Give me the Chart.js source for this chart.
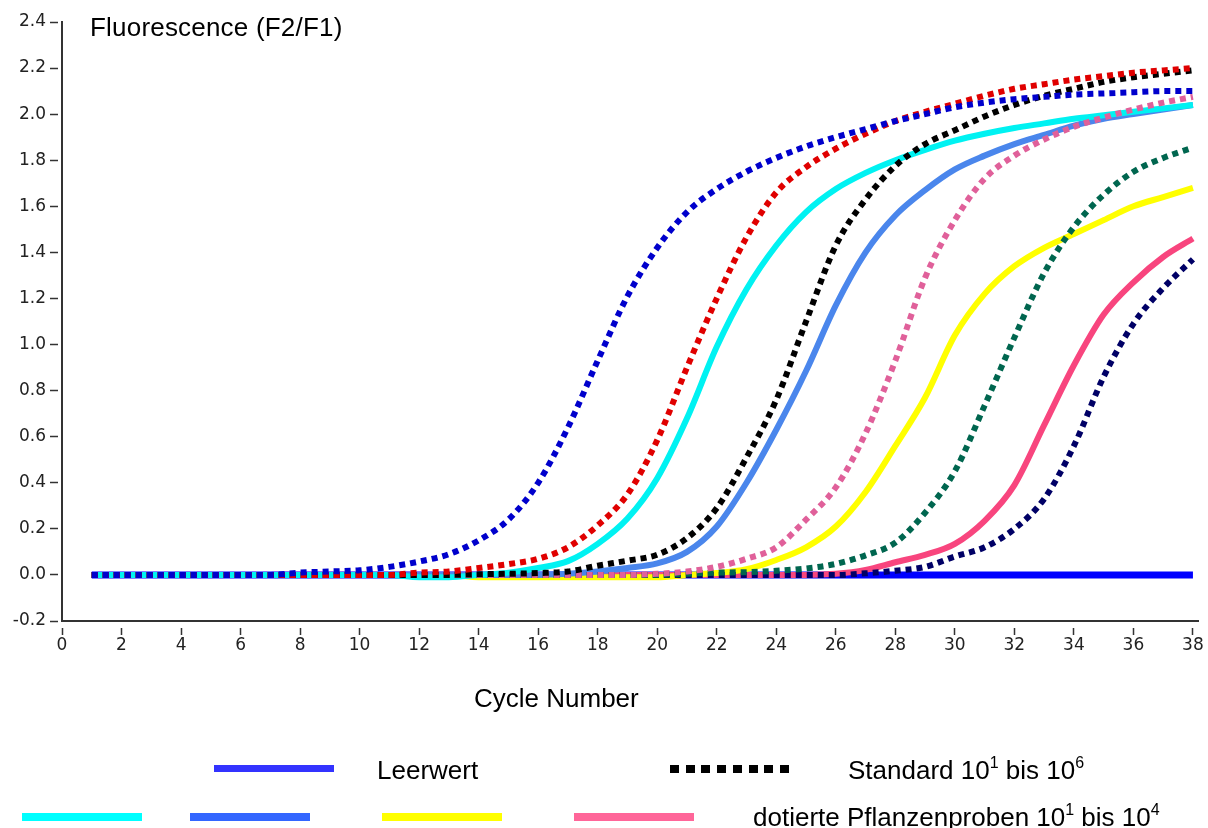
<!DOCTYPE html>
<html>
<head>
<meta charset="utf-8">
<script src="https://cdn.jsdelivr.net/npm/chart.js@4.4.1/dist/chart.umd.min.js"></script>
<style>
  html, body { margin: 0; padding: 0; background: #ffffff; }
  #wrap { position: relative; width: 1208px; height: 828px; overflow: hidden; background: #fff; }
  #chart { position: absolute; left: 0; top: 0; }
  .txt { position: absolute; font-family: 'Liberation Sans', Arial, sans-serif; font-size: 26px; line-height: 26px; color: #000; white-space: nowrap; }
  .txt sup { font-size: 16px; line-height: 0; vertical-align: 11px; }
  .sw { position: absolute; height: 8px; }
</style>
</head>
<body>
<div id="wrap">
  <canvas id="chart" width="1208" height="828"></canvas>
  <div class="txt" style="left:90px; top:14px; letter-spacing:0.2px;">Fluorescence (F2/F1)</div>
  <div class="txt" style="left:474px; top:685px;">Cycle Number</div>

  <div class="sw" style="left:214px; top:765px; width:120px; height:7px; background:#3333ff;"></div>
  <div class="txt" style="left:377px; top:757px;">Leerwert</div>
  <div class="sw" style="left:670px; top:765px; width:119px; background:repeating-linear-gradient(to right,#000 0px,#000 9px,transparent 9px,transparent 15.7px);"></div>
  <div class="txt" style="left:848px; top:757px;">Standard 10<sup>1</sup> bis 10<sup>6</sup></div>

  <div class="sw" style="left:22px; top:813px; width:120px; background:#00ffff;"></div>
  <div class="sw" style="left:190px; top:813px; width:120px; background:#3366ff;"></div>
  <div class="sw" style="left:382px; top:813px; width:120px; background:#ffff00;"></div>
  <div class="sw" style="left:574px; top:813px; width:120px; background:#ff6699;"></div>
  <div class="txt" style="left:753px; top:804px;">dotierte Pflanzenproben 10<sup>1</sup> bis 10<sup>4</sup></div>
</div>
<script>
// ---- data ----
const cycles = [1,2,3,4,5,6,7,8,9,10,11,12,13,14,15,16,17,18,19,20,21,22,23,24,25,26,27,28,29,30,31,32,33,34,35,36,37,38];

const yTickValues = [-0.2,0.0,0.2,0.4,0.6,0.8,1.0,1.2,1.4,1.6,1.8,2.0,2.2,2.4];
const xTickValues = [0,2,4,6,8,10,12,14,16,18,20,22,24,26,28,30,32,34,36,38];

// Standards (dotted)
const std1e6 = [0,0,0,0,0,0,0,0.01,0.015,0.02,0.035,0.058,0.09,0.15,0.24,0.40,0.64,0.93,1.21,1.42,1.575,1.675,1.75,1.81,1.86,1.90,1.935,1.97,2.00,2.03,2.05,2.065,2.075,2.085,2.09,2.095,2.10,2.10];
const std1e5 = [0,0,0,0,0,0,0,0,0,0,0,0.01,0.015,0.03,0.047,0.07,0.12,0.215,0.35,0.585,0.90,1.20,1.465,1.66,1.77,1.85,1.915,1.97,2.01,2.045,2.08,2.11,2.13,2.15,2.165,2.18,2.19,2.20];
const std1e4 = [0,0,0,0,0,0,0,0,0,0,0,0,0,0.003,0.005,0.008,0.015,0.04,0.062,0.088,0.16,0.29,0.51,0.76,1.10,1.43,1.63,1.775,1.87,1.93,1.99,2.04,2.08,2.11,2.14,2.16,2.175,2.19];
const std1e3 = [0,0,0,0,0,0,0,0,0,0,0,0,0,0,0,0,0,0,0,0.005,0.015,0.035,0.07,0.12,0.24,0.38,0.615,0.93,1.29,1.54,1.72,1.82,1.89,1.945,1.985,2.02,2.05,2.075];
const std1e2 = [0,0,0,0,0,0,0,0,0,0,0,0,0,0,0,0,0,0,0,0,0.005,0.01,0.012,0.018,0.028,0.048,0.085,0.14,0.27,0.45,0.735,1.03,1.31,1.51,1.65,1.75,1.81,1.855];
const std1e1 = [0,0,0,0,0,0,0,0,0,0,0,0,0,0,0,0,0,0,0,0,0,0,0,0,0,0,0.007,0.018,0.035,0.08,0.12,0.20,0.33,0.56,0.86,1.09,1.245,1.37];

// Spiked plant samples (solid)
const probeCyan   = [0,0,0,0,0,0,0,0,0,0,0,-0.01,-0.01,0,0.01,0.03,0.06,0.135,0.245,0.42,0.68,0.99,1.24,1.43,1.575,1.675,1.745,1.80,1.845,1.885,1.915,1.94,1.96,1.98,1.995,2.01,2.025,2.04];
const probeBlue   = [0,0,0,0,0,0,0,0,0,0,0,0,0,0,0,0,0.005,0.015,0.03,0.05,0.10,0.21,0.40,0.63,0.885,1.17,1.40,1.56,1.67,1.76,1.82,1.87,1.91,1.95,1.98,2.00,2.02,2.04];
const probeYellow = [0,0,0,0,0,0,0,0,0,0,0,0,0,-0.01,-0.01,-0.01,-0.01,-0.01,-0.01,-0.01,0,0.008,0.025,0.065,0.12,0.21,0.36,0.56,0.77,1.04,1.22,1.34,1.42,1.48,1.54,1.60,1.64,1.68];
const probePink   = [0,0,0,0,0,0,0,0,0,0,0,0,0,0,0,0,0,0,0,0,0,0,0,0,0,0.005,0.022,0.055,0.087,0.135,0.235,0.39,0.65,0.91,1.13,1.27,1.38,1.46];

// Blank
const leerwert = [0,0,0,0,0,0,0,0,0,0,0,0,0,0,0,0,0,0,0,0,0,0,0,0,0,0,0,0,0,0,0,0,0,0,0,0,0,0];

// ---- build datasets ----
const toXY = arr => cycles.map((c, i) => ({ x: c, y: arr[i] }));
const dotted = (label, arr, color) => ({
  label, data: toXY(arr), borderColor: color, backgroundColor: color,
  borderWidth: 6, borderDash: [6, 5], borderCapStyle: 'butt', pointRadius: 0,
  cubicInterpolationMode: 'monotone', fill: false
});
const solid = (label, arr, color, w) => ({
  label, data: toXY(arr), borderColor: color, backgroundColor: color,
  borderWidth: w || 6, pointRadius: 0, cubicInterpolationMode: 'monotone', fill: false
});

// first dataset is drawn on top
const datasets = [
  dotted('Standard 10^6', std1e6, '#0000cc'),
  dotted('Standard 10^5', std1e5, '#e00000'),
  dotted('Standard 10^4', std1e4, '#000000'),
  dotted('Standard 10^3', std1e3, '#e0609a'),
  dotted('Standard 10^2', std1e2, '#00664f'),
  dotted('Standard 10^1', std1e1, '#000066'),
  solid('Probe 10^4', probeCyan, '#00f2f2'),
  solid('Probe 10^3', probeBlue, '#4a86ec'),
  solid('Probe 10^2', probeYellow, '#ffff00'),
  solid('Probe 10^1', probePink, '#f8457e'),
  solid('Leerwert', leerwert, '#0000ff', 7)
];

const tickFont = { family: "'DejaVu Sans', Verdana, sans-serif", size: 17 };

new Chart(document.getElementById('chart'), {
  type: 'line',
  data: { datasets },
  options: {
    responsive: false,
    animation: false,
    events: [],
    layout: { padding: { top: 22, right: 10, left: 0, bottom: 0 } },
    plugins: { legend: { display: false }, tooltip: { enabled: false }, title: { display: false } },
    scales: {
      x: {
        type: 'linear',
        min: 0, max: 38.17,
        afterFit: s => { s.height = 207; },
        afterBuildTicks: s => { s.ticks = xTickValues.map(v => ({ value: v })); },
        ticks: { font: tickFont, color: '#222', padding: 0, maxRotation: 0, autoSkip: false, includeBounds: false,
                 callback: v => String(v) },
        grid: { drawOnChartArea: false, drawTicks: true, tickLength: 14, tickWidth: 1.5, tickColor: '#333',
                tickBorderDash: [0, 6, 7, 100] },
        border: { display: true, color: '#333', width: 2 }
      },
      y: {
        type: 'linear',
        min: -0.2, max: 2.4,
        afterFit: s => { s.width = 62; },
        afterBuildTicks: s => { s.ticks = yTickValues.map(v => ({ value: v })); },
        ticks: { font: tickFont, color: '#222', padding: 4, autoSkip: false,
                 callback: v => Number(v).toFixed(1) },
        grid: { drawOnChartArea: false, drawTicks: true, tickLength: 12, tickWidth: 1.5, tickColor: '#333',
                tickBorderDash: [8, 100] },
        border: { display: true, color: '#333', width: 2 }
      }
    }
  }
});
</script>
</body>
</html>
